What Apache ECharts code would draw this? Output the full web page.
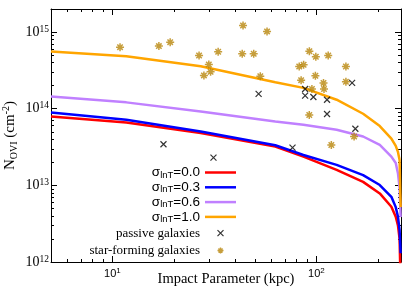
<!DOCTYPE html>
<html>
<head>
<meta charset="utf-8">
<script src="https://cdn.jsdelivr.net/npm/echarts@6/dist/echarts.min.js"></script>
<style>
html,body{margin:0;padding:0;background:#fff;}
#chart{width:415px;height:297px;}
</style>
</head>
<body>
<div id="chart"></div>
<script>
// ---- data ----
const impactParam = [5, 11.7, 27.1, 62.9, 86.4, 125.7, 169.5, 204.6, 233.2, 245, 251.2, 255.9, 258.9];
const sigma00 = [7.93e13, 6.61e13, 4.81e13, 3.21e13, 2.37e13, 1.59e13, 1.11e13, 7.85e12, 5.25e12, 3.9e12, 3.0e12, 2.0e12, 5e11];
const sigma03 = [8.95e13, 7.18e13, 5.04e13, 3.34e13, 2.49e13, 1.85e13, 1.36e13, 1.01e13, 7.1e12, 5.2e12, 3.9e12, 2.6e12, 1.3e12];
const sigma06 = [1.44e14, 1.21e14, 9.22e13, 6.82e13, 6.17e13, 5.31e13, 4.34e13, 3.37e13, 2.37e13, 1.96e13, 1.44e13, 9.2e12, 3.85e12];
const sigma10 = [5.58e14, 4.84e14, 3.58e14, 2.21e14, 1.87e14, 1.31e14, 8.6e13, 5.94e13, 4.08e13, 3.27e13, 2.73e13, 2.15e13, 5.2e12];

const passiveB = [17.8, 31.3, 52.1, 76.4, 88.1, 88.1, 96.7, 112.8, 112.8, 149.7, 155.3];
const passiveN = [3.44e13, 2.30e13, 1.56e14, 3.11e13, 1.81e14, 1.48e14, 1.42e14, 1.31e14, 8.53e13, 2.17e14, 5.47e13];

const sfB = [10.9, 16.9, 19.2, 26.6, 33.0, 29.7, 30.3, 28.1, 43.7, 57.3, 43.3, 49.3, 53.1, 92.4,
             99.4, 114.3, 86.6, 82.4, 139.6, 84.2, 98.9, 108.4, 109.0, 95.1, 139.6, 92.3, 153.1, 118.4];
const sfN = [6.36e14, 6.56e14, 7.39e14, 4.95e14, 5.54e14, 3.77e14, 3.03e14, 2.72e14, 1.22e15, 1.02e15,
             5.21e14, 5.21e14, 2.65e14, 5.64e14, 4.76e14, 4.95e14, 3.74e14, 3.55e14, 3.55e14, 2.36e14,
             2.69e14, 2.17e14, 1.81e14, 1.81e14, 2.25e14, 8.29e13, 4.34e13, 3.36e13];

const sigmaLabels = ['0.0', '0.3', '0.6', '1.0'];
const xMajorTicks = [10, 100];
const xMinorTicks = [6, 7, 8, 9, 20, 30, 40, 50, 60, 70, 80, 90, 200];
const yMajorTicks = [1e12, 1e13, 1e14, 1e15];
const yMinorTicks = [2e12, 3e12, 4e12, 5e12, 6e12, 7e12, 8e12, 9e12,
                     2e13, 3e13, 4e13, 5e13, 6e13, 7e13, 8e13, 9e13,
                     2e14, 3e14, 4e14, 5e14, 6e14, 7e14, 8e14, 9e14, 2e15];

// ---- chart ----
const X_MIN = 5, X_MAX = 260, Y_MIN = 1e12, Y_MAX = 2e15;
const SERIF = 'Liberation Serif';
const SANS = 'Liberation Sans';
const lineColors = ['#ff0000', '#0000ff', '#c080ff', '#ffa500'];
const sfColor = '#b8860b';

const pairs = (xs, ys) => xs.map((x, i) => [x, ys[i]]);
const exp10 = v => Math.round(Math.log10(v));

function xAxisDef(pos, major) {
  return {
    type: 'log', logBase: 10, position: pos, min: X_MIN, max: X_MAX,
    axisLine: { show: !major, onZero: false, lineStyle: { color: '#000', width: 1 } },
    axisTick: { show: true, inside: true, length: major ? 6 : 3,
                customValues: major ? xMajorTicks : xMinorTicks,
                lineStyle: { color: '#000', width: 1 } },
    axisLabel: (major && pos === 'bottom') ? {
      show: true, customValues: xMajorTicks, margin: 5,
      formatter: v => '{b|10}{s|' + exp10(v) + '}',
      rich: {
        b: { fontFamily: SANS, fontSize: 11, lineHeight: 14, color: '#000' },
        s: { fontFamily: SANS, fontSize: 8, lineHeight: 8, verticalAlign: 'top', color: '#000' }
      }
    } : { show: false },
    splitLine: { show: false },
    name: (major && pos === 'bottom') ? 'Impact Parameter (kpc)' : '',
    nameLocation: 'middle', nameGap: 10, nameMoveOverlap: false,
    nameTextStyle: { fontFamily: SERIF, fontSize: 14.5, color: '#000' }
  };
}

function yAxisDef(pos, major) {
  return {
    type: 'log', logBase: 10, position: pos, min: Y_MIN, max: Y_MAX,
    axisLine: { show: !major, onZero: false, lineStyle: { color: '#000', width: 1 } },
    axisTick: { show: true, inside: true, length: major ? 6 : 3,
                customValues: major ? yMajorTicks : yMinorTicks,
                lineStyle: { color: '#000', width: 1 } },
    axisLabel: (major && pos === 'left') ? {
      show: true, customValues: yMajorTicks, margin: 2,
      formatter: v => '{b|10}{s|' + exp10(v) + '}',
      rich: {
        b: { fontFamily: SERIF, fontSize: 14, lineHeight: 16, color: '#000' },
        s: { fontFamily: SERIF, fontSize: 9.5, lineHeight: 9, verticalAlign: 'top', color: '#000' }
      }
    } : { show: false },
    splitLine: { show: false },
    name: (major && pos === 'left') ? '{n|N}{sub|OVI}{n| (cm}{sup|-2}{n|)}' : '',
    nameLocation: 'middle', nameRotate: 90, nameGap: 32, nameMoveOverlap: false,
    nameTextStyle: {
      color: '#000',
      rich: {
        n: { fontFamily: SERIF, fontSize: 15, lineHeight: 18, color: '#000' },
        sub: { fontFamily: SERIF, fontSize: 10, lineHeight: 10, verticalAlign: 'bottom', color: '#000' },
        sup: { fontFamily: SERIF, fontSize: 10, lineHeight: 10, verticalAlign: 'top', color: '#000' }
      }
    }
  };
}

const lineSeries = [sigma00, sigma03, sigma06, sigma10].map((arr, i) => ({
  name: 'σlnT=' + sigmaLabels[i],
  type: 'line', xAxisIndex: 0, yAxisIndex: 0,
  data: pairs(impactParam, arr),
  showSymbol: false, symbol: 'none', smooth: false,
  lineStyle: { color: lineColors[i], width: 2.5 },
  itemStyle: { color: lineColors[i] },
  clip: true, z: 2
}));

const crossPath = 'path://M0,0L10,10M10,0L0,10';
const starPath = 'path://M5,0L5,10M0,5L10,5M1.6,1.6L8.4,8.4M8.4,1.6L1.6,8.4';
const lineIcon = 'path://M0,0L31,0L31,2.5L0,2.5Z';

const option = {
  backgroundColor: '#fff',
  animation: false,
  grid: { left: 51, right: 14, top: 9, bottom: 35, containLabel: false, outerBoundsMode: 'none' },
  xAxis: [xAxisDef('bottom', false), xAxisDef('bottom', true), xAxisDef('top', false), xAxisDef('top', true)],
  yAxis: [yAxisDef('left', false), yAxisDef('left', true), yAxisDef('right', false), yAxisDef('right', true)],
  legend: {
    orient: 'vertical', align: 'right', right: 179, top: 165.5, padding: 0,
    itemWidth: 31, itemHeight: 12, itemGap: 0.3, symbolKeepAspect: true,
    textStyle: {
      color: '#000',
      rich: {
        g: { fontFamily: SANS, fontSize: 13.5, lineHeight: 15, color: '#000' },
        sub: { fontFamily: SANS, fontSize: 9.5, lineHeight: 9, verticalAlign: 'bottom', color: '#000' },
        t: { fontFamily: SERIF, fontSize: 13, lineHeight: 15, color: '#000' }
      }
    },
    formatter: name => {
      if (name.indexOf('σlnT=') === 0) return '{g|σ}{sub|lnT}{g|=' + name.slice(5) + '}';
      return '{t|' + name + '}';
    },
    data: sigmaLabels.map((s, i) => ({
      name: 'σlnT=' + s, icon: lineIcon,
      itemStyle: { color: lineColors[i], borderWidth: 0 }
    })).concat([
      { name: 'passive galaxies', icon: 'path://M-5,-5M15,15M0,0L10,10M10,0L0,10',
        itemStyle: { color: 'none', borderColor: '#000', borderWidth: 1.2 } },
      { name: 'star-forming galaxies', icon: 'path://M-5,-5M15,15M5,0L5,10M0,5L10,5M1.6,1.6L8.4,8.4M8.4,1.6L1.6,8.4',
        itemStyle: { color: 'none', borderColor: sfColor, borderWidth: 1.4 } }
    ])
  },
  series: lineSeries.concat([
    {
      name: 'passive galaxies', type: 'scatter', xAxisIndex: 0, yAxisIndex: 0,
      data: pairs(passiveB, passiveN),
      symbol: crossPath, symbolSize: 6,
      itemStyle: { color: 'none', borderColor: '#000', borderWidth: 1.2 }, z: 3
    },
    {
      name: 'star-forming galaxies', type: 'scatter', xAxisIndex: 0, yAxisIndex: 0,
      data: pairs(sfB, sfN),
      symbol: starPath, symbolSize: 8,
      itemStyle: { color: 'none', borderColor: sfColor, borderWidth: 1.5 }, z: 4
    }
  ])
};

const chart = echarts.init(document.getElementById('chart'), null, { renderer: 'canvas' });
chart.setOption(option);
</script>
</body>
</html>
